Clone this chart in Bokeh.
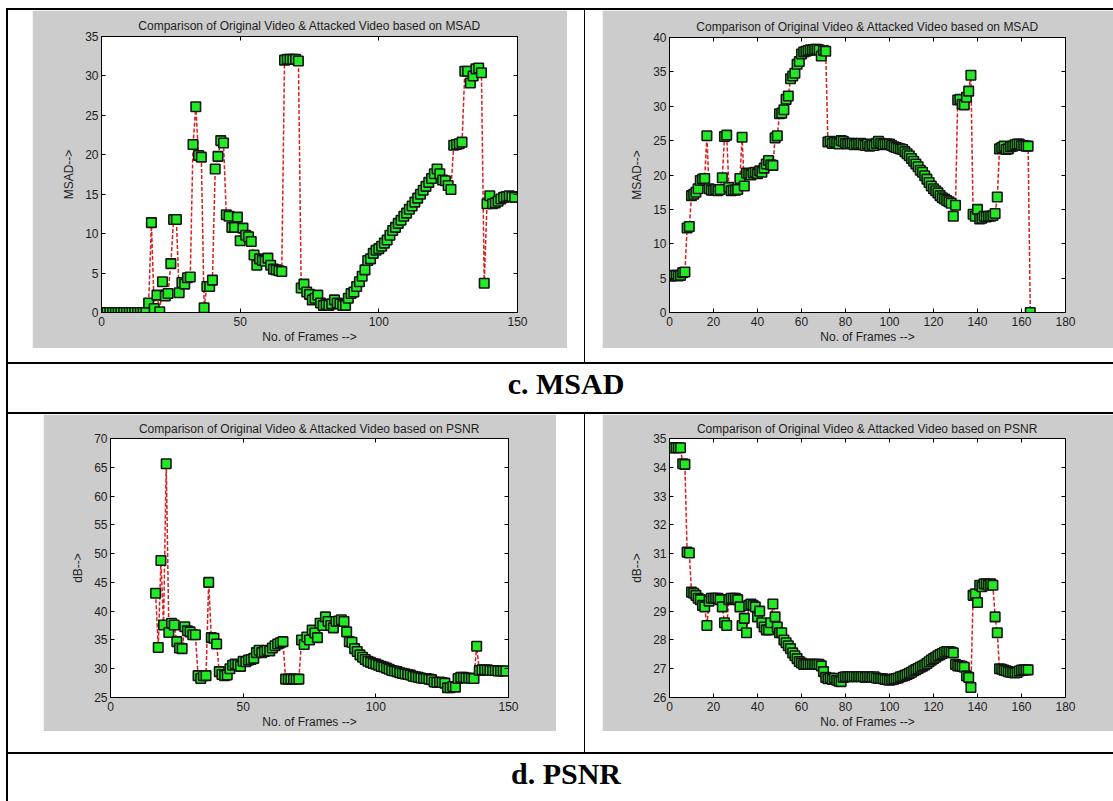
from bokeh.plotting import figure
from bokeh.models import Range1d, LinearAxis, FixedTicker, Spacer, Div
from bokeh.layouts import row, column
from bokeh.embed import file_html
from bokeh.resources import INLINE

# ---------------- data ----------------
chart_title_msad = "Comparison of Original Video & Attacked Video based on MSAD"
chart_title_psnr = "Comparison of Original Video & Attacked Video based on PSNR"
x_label = "No. of Frames -->"
msad_label = "MSAD-->"
psnr_label = "dB-->"
caption_c = "c. MSAD"
caption_d = "d. PSNR"

# video 1, frames 0..149
msad1_frames = list(range(0, 150))
msad1_values = [
    0, 0, 0, 0, 0, 0, 0, 0, 0, 0, 0, 0, 0, 0, 0, 0, 0,
    1.2, 11.4, 0.5, 2.2, 0.1, 3.9, 2.1, 2.4, 6.2, 11.8, 11.8, 2.5, 3.8, 3.6, 4.4, 4.5,
    21.3, 26.1, 19.9, 19.7, 0.6, 3.3, 3.3, 4.1, 18.2, 19.8, 21.8, 21.5,
    12.4, 12.2, 10.8, 10.8, 12.1, 9.1, 10.7, 9.8, 9.6, 9.0, 7.3, 6.0, 6.8, 6.6, 6.5, 6.9, 6.0, 5.5, 5.4, 5.3, 5.2,
    32.0, 32.1, 32.1, 32.1, 32.1, 31.9,
    3.1, 3.6, 2.6, 2.3, 1.6, 1.8, 2.2, 1.2, 0.9, 1.0, 0.9, 1.1, 1.6, 1.2, 1.1, 0.9, 0.9,
    1.8, 2.4, 2.6, 3.3, 3.9, 4.6, 5.4, 6.6, 6.8, 7.5, 7.9,
    8.1, 8.4, 8.8, 9.2, 9.8, 10.4, 10.8, 11.3, 11.7, 12.2,
    12.6, 13.1, 13.5, 14.0, 14.5, 15.0, 15.5, 16.0, 16.5, 17.0,
    17.6, 18.2, 17.6, 16.8, 16.7, 16.1, 15.6,
    21.2, 21.3, 21.4, 21.6,
    30.6, 30.6, 29.1, 30.0, 30.9, 31.0, 30.4,
    3.7, 13.8, 14.8, 13.8, 13.9, 14.1, 14.4, 14.6, 14.7, 14.8, 14.7, 14.6,
]

# video 1 PSNR, frames 17..149 (earlier frames are identical -> infinite PSNR)
psnr1_frames = list(range(17, 150))
psnr1_values = [
    43.1, 33.7, 48.8, 37.6, 65.6, 36.3, 37.9, 37.6, 34.7, 33.6, 33.5, 37.3, 36.6, 36.4, 35.9, 35.9,
    28.8, 28.3, 28.8, 28.8, 45.0, 35.4, 35.3, 34.3, 29.5, 29.0, 28.8, 28.9,
    30.0, 30.6, 30.8, 30.7, 30.4, 31.3, 31.2, 31.5, 31.6, 31.8, 32.8, 33.2, 32.8, 33.0, 33.2, 33.1, 33.6, 34.0, 34.3, 34.5, 34.7,
    28.2, 28.2, 28.2, 28.2, 28.2, 28.2,
    35.0, 34.2, 35.5, 35.0, 36.7, 36.2, 35.4, 37.9, 37.5, 39.0, 38.2, 37.5, 37.1, 38.2, 38.3, 38.5, 38.2,
    36.4, 34.7, 34.6, 33.5, 33.0, 32.4, 32.0, 31.6, 31.3, 31.1, 30.9,
    30.8, 30.6, 30.4, 30.3, 30.1, 29.9, 29.7, 29.6, 29.5, 29.3,
    29.2, 29.1, 29.0, 28.9, 28.7, 28.6, 28.5, 28.4, 28.3, 28.3,
    28.2, 28.1, 27.7, 27.6, 27.7, 27.6, 27.5,
    26.7, 26.7, 26.9, 26.8,
    28.3, 28.5, 28.5, 28.4, 28.4, 28.3, 28.3,
    33.9, 29.7, 29.8, 29.8, 29.8, 29.7, 29.7, 29.7, 29.6, 29.6, 29.6, 29.6,
]

# video 2, frames 0..164
msad2_frames = list(range(0, 165))
msad2_values = [
    5.3, 5.3, 5.4, 5.4, 5.3, 5.4, 5.8, 5.9, 12.3, 12.5,
    17.0, 17.2, 17.5, 18.0, 19.2, 19.4, 19.5, 25.7, 18.0, 17.8,
    17.8, 17.9, 17.7, 17.9, 19.6, 25.6, 25.8, 18.2, 17.7, 17.8,
    17.8, 17.9, 19.5, 25.5, 18.4, 20.3, 20.2, 20.0, 20.3, 20.4,
    20.2, 20.6, 20.4, 21.0, 21.6, 22.1, 21.5, 21.4, 25.4, 25.7,
    28.9, 29.0, 29.5, 31.0, 31.5, 34.0, 34.4, 34.8, 36.1, 36.5,
    37.6, 37.9, 38.0, 38.1, 38.2, 38.2, 38.3, 38.3, 38.2, 37.3,
    38.1, 38.0, 24.8, 24.9, 24.6, 24.8, 24.7, 24.5, 25.0, 24.9,
    24.6, 24.5, 24.6, 24.6, 24.4, 24.5, 24.5, 24.6, 24.4, 24.3,
    24.5, 24.2, 24.4, 24.3, 24.6, 24.9, 24.6, 24.4, 24.5, 24.5,
    24.5, 24.3, 24.1, 24.0, 23.9, 23.8, 23.7, 23.4, 23.1, 22.8,
    22.4, 22.0, 21.6, 21.2, 20.7, 20.4, 19.9, 19.4, 18.9, 18.4,
    18.0, 17.7, 17.4, 17.0, 16.7, 16.5, 16.3, 16.1, 15.9, 14.0,
    15.6, 30.9, 31.0, 30.3, 30.2, 31.3, 32.2, 34.5, 14.3, 14.0,
    15.0, 13.6, 13.7, 14.0, 13.9, 14.0, 14.0, 14.1, 14.4, 16.8,
    23.8, 24.0, 24.2, 23.7, 23.8, 24.1, 24.2, 24.4, 24.5, 24.5,
    24.3, 24.3, 24.2, 24.2, 0.0,
]

# video 2 PSNR, frames 0..163
psnr2_frames = list(range(0, 164))
psnr2_values = [
    34.68, 34.68, 34.68, 34.68, 34.68, 34.68, 34.12, 34.1, 31.05, 31.02,
    29.66, 29.62, 29.55, 29.45, 29.4, 29.2, 29.15, 28.5, 29.35, 29.45,
    29.45, 29.45, 29.45, 29.4, 29.15, 28.6, 28.5, 29.4, 29.45, 29.45,
    29.45, 29.4, 29.15, 28.5, 28.75, 28.25, 29.2, 29.25, 29.2, 29.15,
    28.8, 29.0, 28.6, 28.45, 28.35, 28.35, 28.6, 29.25, 28.8, 28.45,
    28.25, 28.25, 28.0, 27.9, 27.8, 27.7, 27.55, 27.45, 27.35, 27.25,
    27.2, 27.15, 27.15, 27.15, 27.15, 27.15, 27.15, 27.15, 27.15, 27.1,
    26.9, 26.7, 26.65, 26.68, 26.63, 26.67, 26.6, 26.57, 26.55, 26.7,
    26.72, 26.72, 26.73, 26.72, 26.73, 26.72, 26.73, 26.72, 26.73, 26.7,
    26.72, 26.71, 26.7, 26.72, 26.68, 26.66, 26.66, 26.65, 26.63, 26.62,
    26.6, 26.62, 26.64, 26.66, 26.68, 26.72, 26.74, 26.77, 26.8, 26.84,
    26.88, 26.93, 26.97, 27.01, 27.05, 27.09, 27.13, 27.18, 27.24, 27.3,
    27.35, 27.4, 27.45, 27.49, 27.53, 27.57, 27.6, 27.6, 27.58, 27.55,
    27.15, 27.1, 27.1, 27.08, 27.05, 26.75, 26.7, 26.35, 29.55, 29.6,
    29.3, 29.9, 29.85, 29.95, 29.95, 29.9, 29.95, 29.9, 28.8, 28.25,
    27.0, 26.98, 26.95, 26.93, 26.9, 26.88, 26.87, 26.85, 26.87, 26.92,
    26.95, 26.96, 26.96, 26.96,
]

x_ticks_150 = [0, 50, 100, 150]
x_ticks_180 = [0, 20, 40, 60, 80, 100, 120, 140, 160, 180]
y_ticks_msad1 = [0, 5, 10, 15, 20, 25, 30, 35]
y_ticks_msad2 = [0, 5, 10, 15, 20, 25, 30, 35, 40]
y_ticks_psnr1 = [25, 30, 35, 40, 45, 50, 55, 60, 65, 70]
y_ticks_psnr2 = [26, 27, 28, 29, 30, 31, 32, 33, 34, 35]

# ---------------- styling ----------------
GRAY = "#cccccc"
TXT = "#1e1e1e"
FONT = "Liberation Sans"
LINE_RED = "#dd1c1c"
FACE = "#22ea22"


def style_axis(ax, ticks, label=None, show=True, standoff=3, label_standoff=2):
    ax.ticker = FixedTicker(ticks=ticks)
    ax.major_tick_in = 4
    ax.major_tick_out = 0
    ax.minor_tick_line_color = None
    ax.axis_line_color = "black"
    ax.axis_line_width = 1
    ax.major_tick_line_color = "black"
    if show:
        ax.major_label_text_font = FONT
        ax.major_label_text_font_size = "12px"
        ax.major_label_text_color = TXT
        ax.major_label_standoff = standoff
    else:
        ax.major_label_text_color = None
        ax.major_label_text_font_size = "1px"
        ax.major_label_standoff = 0
    if label:
        ax.axis_label = label
        ax.axis_label_text_font = FONT
        ax.axis_label_text_font_size = "12px"
        ax.axis_label_text_font_style = "normal"
        ax.axis_label_text_color = TXT
        ax.axis_label_standoff = label_standoff


def panel(frames, values, xmax, xticks, ymin, ymax, yticks, ylabel, title,
          w, h, bl, br, bt, bb, title_standoff=7, y_label_standoff=6):
    p = figure(width=w, height=h, output_backend="svg", toolbar_location=None,
               x_range=Range1d(0, xmax), y_range=Range1d(ymin, ymax),
               min_border_left=bl, min_border_right=br,
               min_border_top=bt, min_border_bottom=bb,
               background_fill_color="white", border_fill_color=GRAY,
               outline_line_color="black", title=title)
    p.grid.visible = False
    p.title.align = "center"
    p.title.text_font = FONT
    p.title.text_font_size = "12px"
    p.title.text_font_style = "normal"
    p.title.text_color = TXT
    p.title.standoff = title_standoff
    style_axis(p.xaxis[0], xticks, x_label, standoff=4, label_standoff=1)
    style_axis(p.yaxis[0], yticks, ylabel, standoff=3, label_standoff=y_label_standoff)
    top = LinearAxis()
    style_axis(top, xticks, show=False)
    p.add_layout(top, "above")
    right = LinearAxis()
    style_axis(right, yticks, show=False)
    p.add_layout(right, "right")
    p.line(frames, values, line_color=LINE_RED, line_dash="4 2", line_width=1.5)
    p.scatter(frames, values, marker="square", size=9.5, fill_color=FACE,
              line_color="#141414", line_width=1.6)
    return p


p1 = panel(msad1_frames, msad1_values, 150, x_ticks_150, 0, 35, y_ticks_msad1,
           msad_label, chart_title_msad, 535, 338, 69, 50, 26, 36)
p2 = panel(msad2_frames, msad2_values, 180, x_ticks_180, 0, 40, y_ticks_msad2,
           msad_label, chart_title_msad, 511, 338, 67, 48, 27, 36)
p3 = panel(psnr1_frames, psnr1_values, 150, x_ticks_150, 25, 70, y_ticks_psnr1,
           psnr_label, chart_title_psnr, 513, 317, 67, 48, 24, 34, title_standoff=6)
p4 = panel(psnr2_frames, psnr2_values, 180, x_ticks_180, 26, 35, y_ticks_psnr2,
           psnr_label, chart_title_psnr, 511, 317, 67, 48, 24, 34, title_standoff=6)


def blank(w, h):
    return Spacer(width=w, height=h, margin=0)


def black(w, h):
    return Div(text="", width=w, height=h, margin=0,
               styles={"background-color": "black"})


def caption(txt, h):
    html = ('<div style="display:block;width:100%%;box-sizing:border-box;'
            'text-align:center;padding-left:11px;'
            'font-family:\'Liberation Serif\',\'Times New Roman\',serif;'
            'font-weight:bold;font-size:30px;line-height:%dpx;color:#000;">%s</div>'
            % (h - 8, txt))
    return Div(text=html, width=1105, height=h, margin=0,
               styles={"text-align": "center", "display": "block"})


top_row = row(
    blank(6, 352), black(2, 352), blank(24, 352),
    column(p1, blank(535, 14), spacing=0),
    blank(17, 352), black(1, 352), blank(17, 352),
    column(p2, blank(511, 14), spacing=0),
    spacing=0,
)
bottom_row = row(
    blank(6, 338), black(2, 338), blank(35, 338),
    column(p3, blank(513, 21), spacing=0),
    blank(28, 338), black(1, 338), blank(17, 338),
    column(p4, blank(511, 21), spacing=0),
    spacing=0,
)


def hline():
    return row(blank(6, 2), black(1107, 2), spacing=0)


layout = column(
    blank(1113, 8),
    hline(),
    top_row,
    hline(),
    row(blank(6, 48), black(2, 48), caption(caption_c, 48), spacing=0),
    hline(),
    bottom_row,
    hline(),
    row(blank(6, 47), black(2, 47), caption(caption_d, 47), spacing=0),
    spacing=0,
)

open("out.html", "w").write(file_html(layout, INLINE))
